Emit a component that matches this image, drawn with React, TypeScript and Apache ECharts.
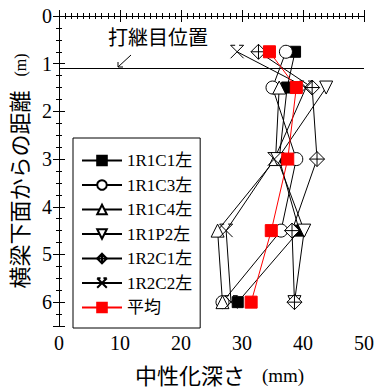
import React, { useEffect, useRef } from "react";
import * as echarts from "echarts";

const depths = [0.75, 1.5, 3.0, 4.5, 6.0];
const r1c1 = [38.7, 37.4, 36.1, 39.4, 29.3];
const r1c3 = [37.2, 35.0, 38.9, 36.4, 26.8];
const r1c4 = [null, 36.1, 35.5, 26.0, 26.8];
const r1p2 = [null, 43.8, 35.8, 40.2, 38.6];
const r2c1 = [32.7, 41.5, 42.3, 38.2, 38.6];
const r2c2 = [29.2, 40.5, 35.3, 27.4, 28.2];
const avg = [34.5, 38.9, 37.5, 34.8, 31.5];
const jointDepth = 1.1;

const SERIF = "Liberation Serif";
const CJK = "Noto Sans CJK JP";

const diamondCross = "path://M0,-10 L10,0 L0,10 L-10,0 Z M0,-10 L0,10 M-10,0 L10,0";
const hourX = "path://M-10,-10 L10,10 M10,-10 L-10,10 M-10,-10 L-3,-10 M3,-10 L10,-10";

const css = `#chartbox svg text, #chartbox svg tspan { font-family: "Liberation Serif", "Noto Sans CJK JP" !important; }`;

function pairs(vals: (number | null)[]) {
  const out: number[][] = [];
  vals.forEach((v, i) => {
    if (v !== null) out.push([v, depths[i]]);
  });
  return out;
}

export default function App() {
  const ref = useRef<HTMLDivElement>(null);
  useEffect(() => {
    document.body.style.margin = "0";
    const chart = echarts.init(ref.current!, null, { renderer: "svg" });
    const base = (name: string, vals: (number | null)[], symbol: string, size: number, extra: any = {}) => ({
      name,
      type: "line",
      data: pairs(vals),
      symbol,
      symbolSize: size,
      lineStyle: { color: "#000", width: 1 },
      itemStyle: { color: "#fff", borderColor: "#000", borderWidth: 1 },
      ...extra,
    });
    const axisLine = { lineStyle: { color: "#000", width: 1 } };
    const axisTick = { inside: true, length: 6, lineStyle: { color: "#000" } };
    chart.setOption({
      animation: false,
      textStyle: { fontFamily: SERIF },
      grid: { left: 59, right: 12, top: 16, bottom: 64 },
      legend: {
        left: 73,
        top: 138,
        orient: "vertical",
        itemWidth: 40,
        itemHeight: 12,
        itemGap: 7.5,
        padding: [14, 8, 12, 8],
        borderColor: "#000",
        borderWidth: 1,
        textStyle: { fontFamily: SERIF, fontSize: 17, color: "#000" },
        data: ["1R1C1左", "1R1C3左", "1R1C4左", "1R1P2左", "1R2C1左", "1R2C2左", "平均"],
      },
      xAxis: [
        {
          type: "value",
          min: 0,
          max: 50,
          interval: 10,
          position: "bottom",
          minorTick: { show: true, splitNumber: 10, length: 3, lineStyle: { color: "#000" } },
          axisLine,
          axisTick,
          splitLine: { show: false },
          axisLabel: { fontFamily: SERIF, fontSize: 20, color: "#000", margin: 7 },
          name: "{a|中性化深さ}{b|(mm)}",
          nameLocation: "middle",
          nameGap: 39,
          nameTextStyle: {
            padding: [0, 0, 0, 16],
            rich: {
              a: { fontFamily: CJK, fontSize: 22, color: "#000" },
              b: { fontFamily: SERIF, fontSize: 19, color: "#000", padding: [0, 0, 0, 17] },
            },
          },
        },
        {
          type: "value",
          min: 0,
          max: 50,
          interval: 10,
          position: "top",
          minorTick: { show: true, splitNumber: 10, length: 3, lineStyle: { color: "#000" } },
          axisLine,
          axisTick,
          splitLine: { show: false },
          axisLabel: { show: false },
        },
      ],
      yAxis: [
        {
          type: "value",
          min: 0,
          max: 6.5,
          interval: 1,
          inverse: true,
          position: "left",
          minorTick: { show: true, splitNumber: 4, length: 3, lineStyle: { color: "#000" } },
          axisLine,
          axisTick,
          splitLine: { show: false },
          axisLabel: {
            fontFamily: SERIF,
            fontSize: 20,
            color: "#000",
            margin: 7,
            formatter: (v: number) => (Number.isInteger(v) ? String(v) : ""),
          },
          name: "{a|横梁下面からの距離}{b|(m)}",
          nameLocation: "middle",
          nameRotate: 90,
          nameGap: 28,
          nameTextStyle: {
            rich: {
              a: { fontFamily: CJK, fontSize: 22, color: "#000" },
              b: { fontFamily: SERIF, fontSize: 16, color: "#000", padding: [0, 0, 0, 14] },
            },
          },
        },
        {
          type: "value",
          min: 0,
          max: 6.5,
          interval: 1,
          inverse: true,
          position: "right",
          minorTick: { show: true, splitNumber: 4, length: 3, lineStyle: { color: "#000" } },
          axisLine,
          axisTick,
          splitLine: { show: false },
          axisLabel: { show: false },
        },
      ],
      series: [
        base("1R1C1左", r1c1, "rect", 11, {
          itemStyle: { color: "#000", borderColor: "#000", borderWidth: 1 },
          markLine: {
            silent: true,
            symbol: "none",
            label: { show: false },
            lineStyle: { color: "#000", width: 1, type: "solid" },
            data: [{ yAxis: jointDepth }],
          },
        }),
        base("1R1C3左", r1c3, "circle", 13),
        base("1R1C4左", r1c4, "triangle", 13),
        base("1R1P2左", r1p2, "triangle", 13, { symbolRotate: 180 }),
        base("1R2C1左", r2c1, diamondCross, 15),
        base("1R2C2左", r2c2, hourX, 13, {
          itemStyle: { color: "none", borderColor: "#000", borderWidth: 1 },
        }),
        base("平均", avg, "rect", 12, {
          lineStyle: { color: "#ff0000", width: 1 },
          itemStyle: { color: "#ff0000", borderColor: "#ff0000", borderWidth: 1 },
          z: 5,
        }),
      ],
      graphic: [
        {
          type: "text",
          left: 108,
          top: 28,
          style: { text: "打継目位置", fontFamily: CJK, fontSize: 20, fill: "#000" },
        },
        {
          type: "line",
          shape: { x1: 131, y1: 55, x2: 118, y2: 67 },
          style: { stroke: "#000", lineWidth: 1 },
        },
        {
          type: "polyline",
          shape: { points: [[118, 62], [118, 67], [123, 67]] },
          style: { stroke: "#000", lineWidth: 1, fill: "none" },
        },
      ],
    });
    return () => chart.dispose();
  }, []);
  return (
    <>
      <style>{css}</style>
      <div id="chartbox" ref={ref} style={{ width: 377, height: 392 }} />
    </>
  );
}
